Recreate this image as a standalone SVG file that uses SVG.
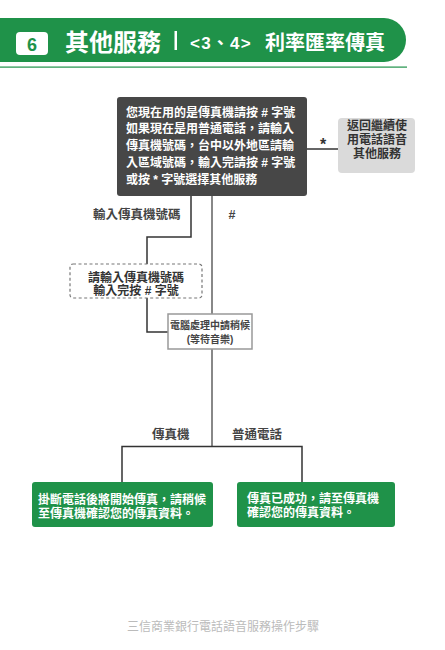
<svg xmlns="http://www.w3.org/2000/svg" width="445" height="650" viewBox="0 0 445 650">
<style>
text{font-family:"Liberation Sans","Noto Sans CJK TC",sans-serif;}
.w{fill:#fff;font-weight:bold;font-size:12px;}
.lbl{fill:#444;font-weight:bold;font-size:12.5px;}
.gr{fill:#333;font-weight:bold;font-size:12px;text-anchor:middle;}
.conn{fill:none;stroke:#333;stroke-width:1.5;}
.gline{fill:none;stroke:#888;stroke-width:2;}
.green{fill:#1f9249;}
</style>
<rect width="445" height="650" fill="#fff"/>
<g id="header">
<path d="M0 18 H384 A22 22 0 0 1 384 62 H0 Z" class="green"/>
<rect x="0" y="66.5" width="407" height="1.2" class="green"/>
<rect x="16" y="32" width="32" height="23" rx="4" fill="#fff"/>
<text x="32" y="50.5" text-anchor="middle" font-weight="bold" font-size="18" fill="#1f9249">6</text>
<text x="65" y="51" fill="#fff" font-weight="bold" font-size="24">其他服務</text>
<rect x="174.5" y="31" width="2.5" height="19" fill="#fff"/>
<text x="190" y="49" fill="#fff" font-weight="bold" font-size="17" letter-spacing="1.2">&lt;3、4&gt;</text>
<text x="265" y="50" fill="#fff" font-weight="bold" font-size="20">利率匯率傳真</text>
</g>
<g id="connectors">
<path class="conn" d="M307 149 H338"/>
<text x="323" y="150" text-anchor="middle" font-weight="bold" font-size="16" fill="#333">*</text>
<path class="conn" d="M191 196 V237 H147 V264"/>
<path class="conn" d="M147 298 V332 H168"/>
<path class="gline" d="M212 196 V314"/>
<path class="gline" d="M212 349 V446"/>
<path class="conn" d="M122 482 V446.5 H302 V482"/>
<text x="93" y="219" class="lbl">輸入傳真機號碼</text>
<text x="232" y="219" class="lbl" text-anchor="middle">#</text>
<text x="152" y="439" class="lbl">傳真機</text>
<text x="232" y="439" class="lbl">普通電話</text>
</g>
<g id="n-main">
<rect x="117" y="97" width="190" height="99" rx="3" fill="#474747"/>
<text class="w" x="126" y="116.5">您現在用的是傳真機請按 # 字號</text>
<text class="w" x="126" y="133.3">如果現在是用普通電話，請輸入</text>
<text class="w" x="126" y="150.1">傳真機號碼，台中以外地區請輸</text>
<text class="w" x="126" y="166.9">入區域號碼，輸入完請按 # 字號</text>
<text class="w" x="126" y="183.7">或按 * 字號選擇其他服務</text>
</g>
<g id="n-back">
<rect x="338" y="118" width="77" height="55" rx="4" fill="#dadada"/>
<text class="gr" x="377" y="130">返回繼續使</text>
<text class="gr" x="377" y="144">用電話語音</text>
<text class="gr" x="377" y="158">其他服務</text>
</g>
<g id="n-input">
<rect x="70" y="264" width="132" height="34" rx="3" fill="#fff" stroke="#777" stroke-width="1.2" stroke-dasharray="3 2.5"/>
<text class="gr" x="136" y="281.5" font-size="11.5" fill="#444">請輸入傳真機號碼</text>
<text class="gr" x="136" y="294.5" font-size="11.5" fill="#444">輸入完按 # 字號</text>
</g>
<g id="n-process">
<rect x="168" y="314" width="84" height="35" fill="#fff" stroke="#999" stroke-width="1.5"/>
<text x="210" y="329" text-anchor="middle" font-size="10" font-weight="bold" fill="#444">電腦處理中請稍候</text>
<text x="210" y="343" text-anchor="middle" font-size="10" font-weight="bold" fill="#444">(等待音樂)</text>
</g>
<g id="n-fax">
<rect x="32" y="482" width="181" height="45" rx="3" class="green"/>
<text class="w" x="38" y="504">掛斷電話後將開始傳真，請稍候</text>
<text class="w" x="38" y="518">至傳真機確認您的傳真資料。</text>
</g>
<g id="n-phone">
<rect x="237" y="482" width="158" height="45" rx="3" class="green"/>
<text class="w" x="247" y="503">傳真已成功，請至傳真機</text>
<text class="w" x="247" y="517">確認您的傳真資料。</text>
</g>
<text x="223" y="631" text-anchor="middle" font-size="12" fill="#bbb">三信商業銀行電話語音服務操作步驟</text>
</svg>
